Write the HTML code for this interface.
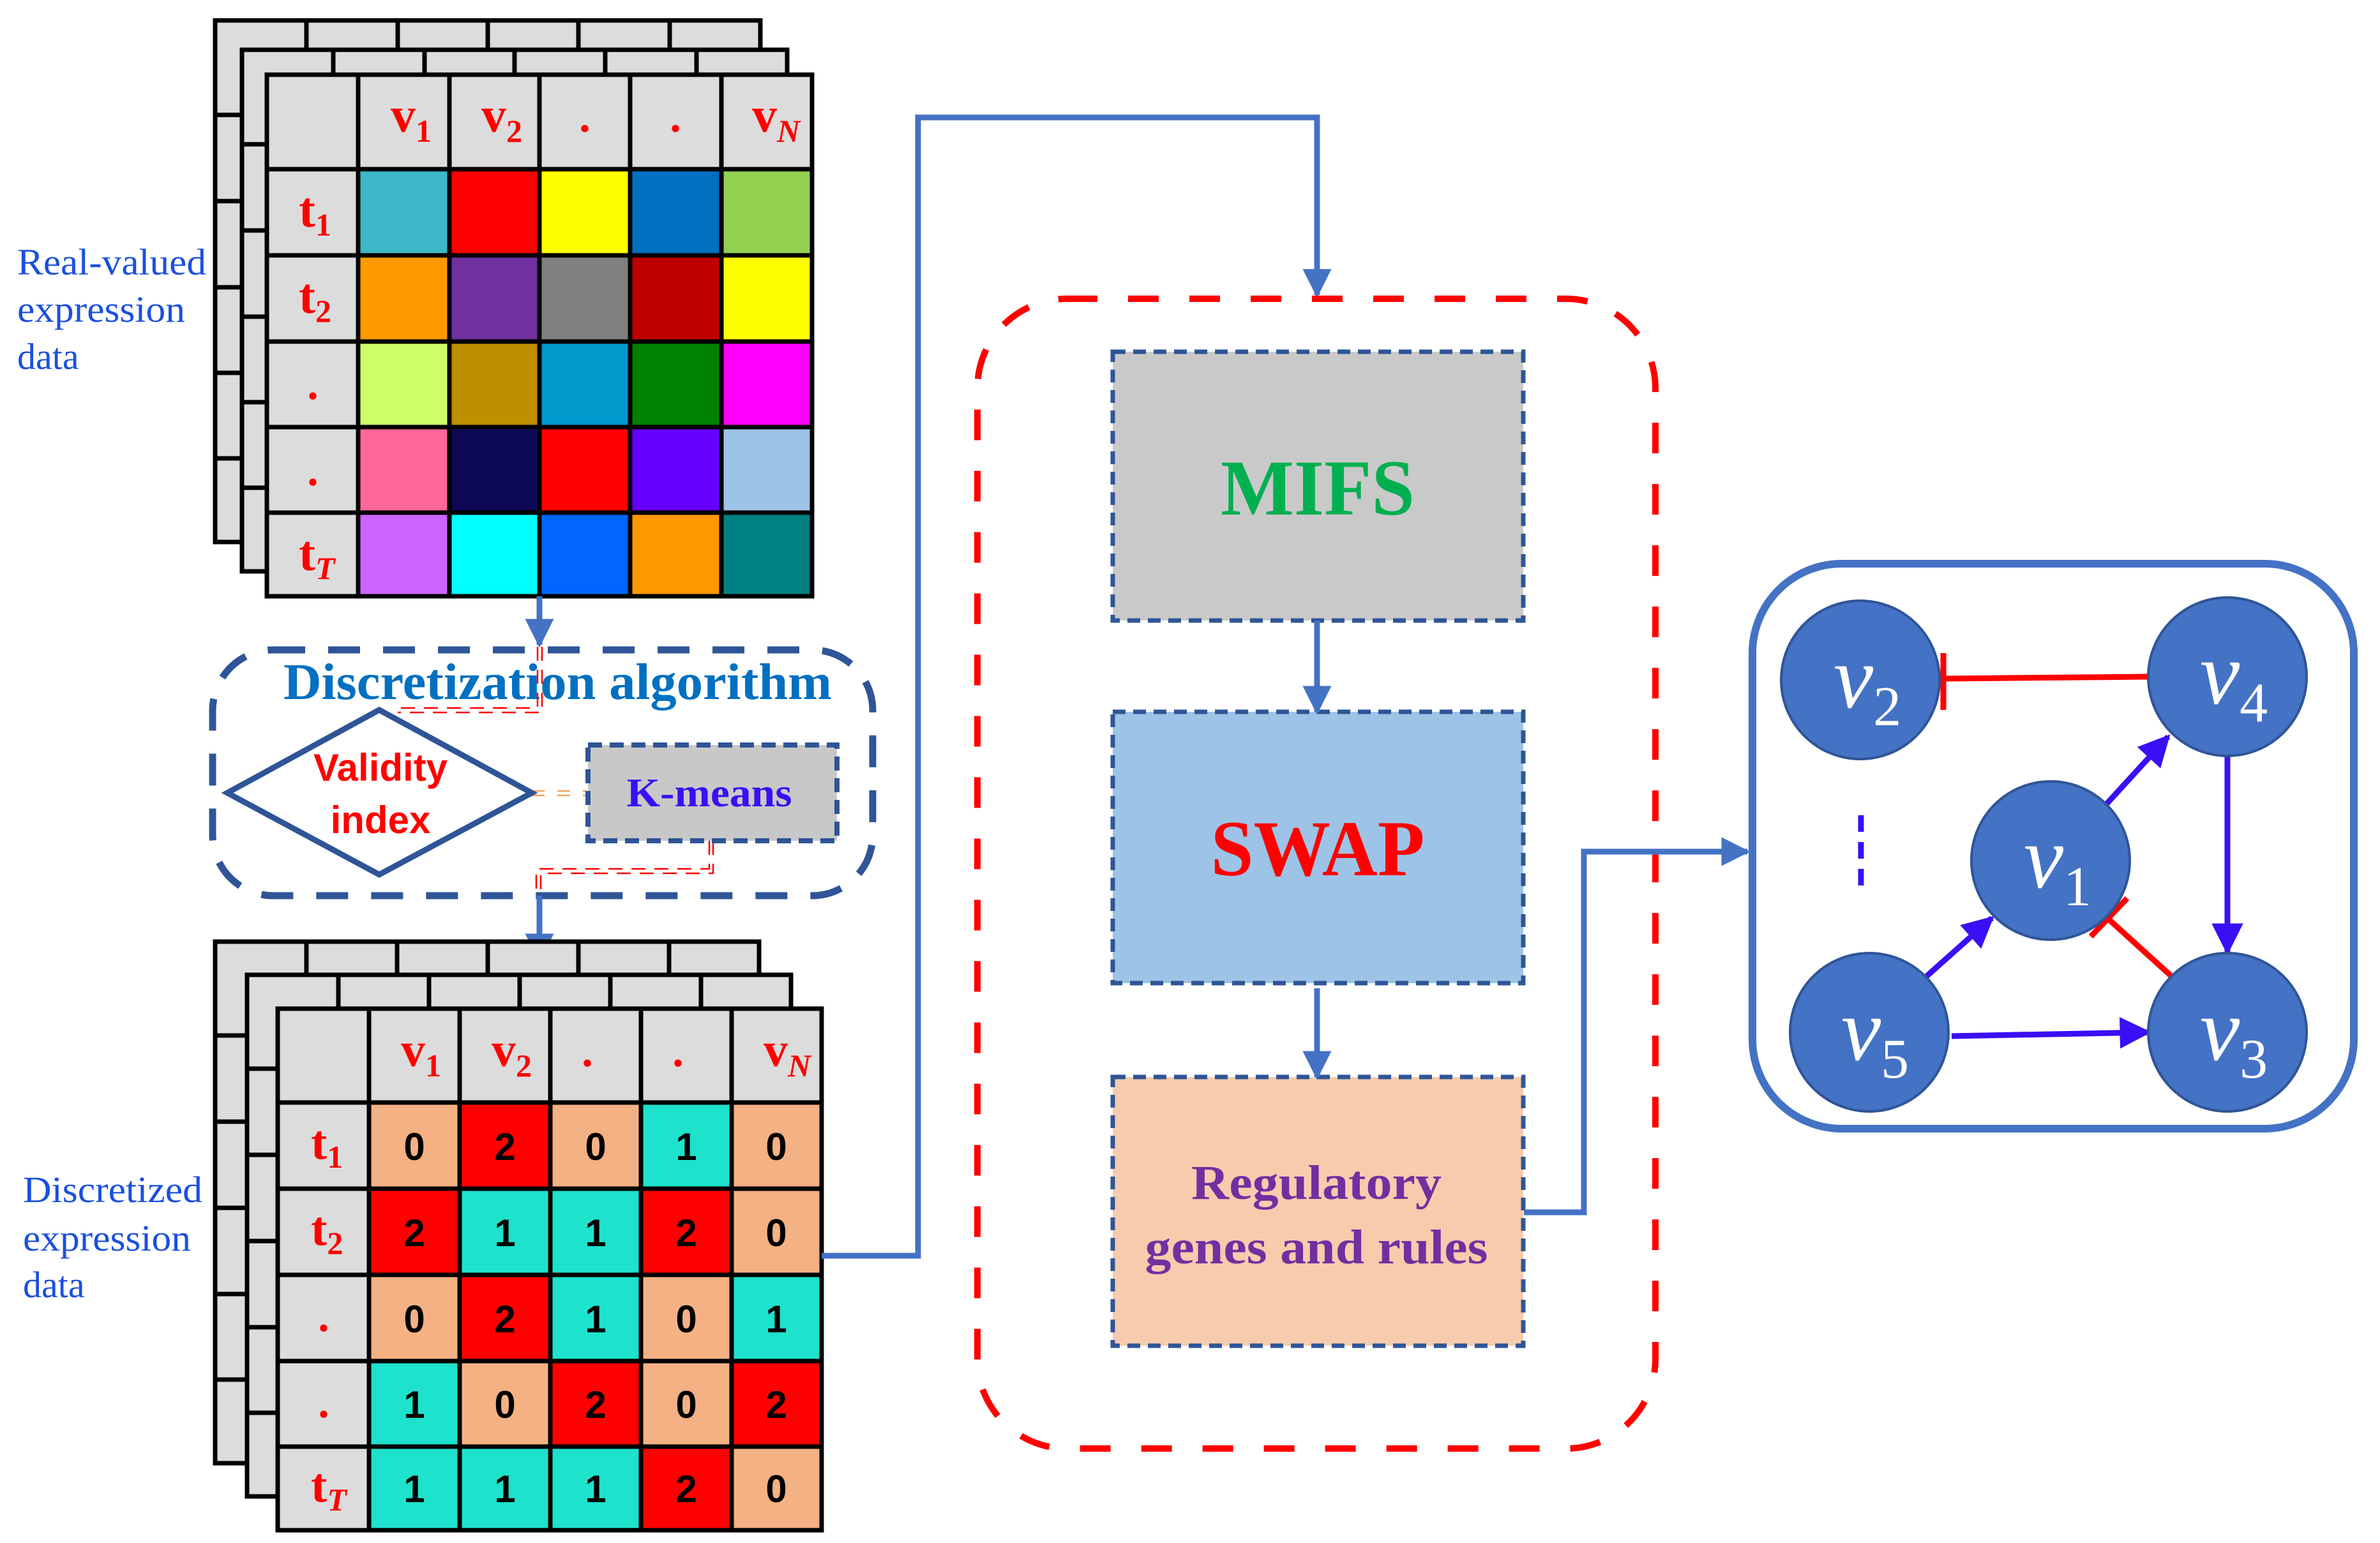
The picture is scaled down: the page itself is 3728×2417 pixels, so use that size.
<!DOCTYPE html>
<html><head><meta charset="utf-8"><style>html,body{margin:0;padding:0;background:#fff}svg{display:block}</style></head>
<body>
<svg width="3728" height="2417" viewBox="0 0 3728 2417" xmlns="http://www.w3.org/2000/svg">
<defs>
<marker id="ab" viewBox="0 0 10 10" refX="9" refY="5" markerWidth="5" markerHeight="5" orient="auto" markerUnits="strokeWidth"><path d="M0,0 L10,5 L0,10 z" fill="#4472c4"/></marker>
<marker id="ap" viewBox="0 0 10 10" refX="9" refY="5" markerWidth="5.5" markerHeight="5.5" orient="auto" markerUnits="strokeWidth"><path d="M0,0 L10,5 L0,10 z" fill="#3a0ff5"/></marker>
<g id="tg">
<rect x="0" y="0" width="854" height="817" fill="#dcdcdc" stroke="#000" stroke-width="7"/>
<path d="M143 0V817M286 0V817M427 0V817M569 0V817M712 0V817M0 148H854M0 283H854M0 418H854M0 552H854M0 686H854" stroke="#000" stroke-width="7"/>
</g>
<g id="bg">
<rect x="0" y="0" width="852" height="817" fill="#dcdcdc" stroke="#000" stroke-width="7"/>
<path d="M143 0V817M285 0V817M427 0V817M569 0V817M711 0V817M0 147H852M0 282H852M0 417H852M0 552H852M0 686H852" stroke="#000" stroke-width="7"/>
</g>
</defs>

<g font-family="Liberation Serif, serif" font-size="58" fill="#1a4fe0">
<text x="27" y="430" textLength="296" lengthAdjust="spacingAndGlyphs">Real-valued</text>
<text x="27" y="504" textLength="263" lengthAdjust="spacingAndGlyphs">expression</text>
<text x="27" y="578">data</text>
<text x="36" y="1883" textLength="281" lengthAdjust="spacingAndGlyphs">Discretized</text>
<text x="36" y="1959" textLength="263" lengthAdjust="spacingAndGlyphs">expression</text>
<text x="36" y="2032">data</text>
</g>

<use href="#tg" x="337" y="32"/>
<use href="#tg" x="379" y="78"/>
<g transform="translate(418,117)">
<rect x="0" y="0" width="854" height="817" fill="#dcdcdc"/>
<rect x="143" y="148" width="143" height="135" fill="#3cb8c8"/><rect x="286" y="148" width="141" height="135" fill="#ff0000"/><rect x="427" y="148" width="142" height="135" fill="#ffff00"/><rect x="569" y="148" width="143" height="135" fill="#0070c0"/><rect x="712" y="148" width="142" height="135" fill="#92d050"/>
<rect x="143" y="283" width="143" height="135" fill="#ff9900"/><rect x="286" y="283" width="141" height="135" fill="#7030a0"/><rect x="427" y="283" width="142" height="135" fill="#808080"/><rect x="569" y="283" width="143" height="135" fill="#c00000"/><rect x="712" y="283" width="142" height="135" fill="#ffff00"/>
<rect x="143" y="418" width="143" height="134" fill="#ccff66"/><rect x="286" y="418" width="141" height="134" fill="#bf8f00"/><rect x="427" y="418" width="142" height="134" fill="#0099cc"/><rect x="569" y="418" width="143" height="134" fill="#008000"/><rect x="712" y="418" width="142" height="134" fill="#ff00ff"/>
<rect x="143" y="552" width="143" height="134" fill="#ff6699"/><rect x="286" y="552" width="141" height="134" fill="#0d0855"/><rect x="427" y="552" width="142" height="134" fill="#ff0000"/><rect x="569" y="552" width="143" height="134" fill="#6600ff"/><rect x="712" y="552" width="142" height="134" fill="#9dc3e6"/>
<rect x="143" y="686" width="143" height="131" fill="#cc66ff"/><rect x="286" y="686" width="141" height="131" fill="#00ffff"/><rect x="427" y="686" width="142" height="131" fill="#0066ff"/><rect x="569" y="686" width="143" height="131" fill="#ff9900"/><rect x="712" y="686" width="142" height="131" fill="#008080"/>
<rect x="0" y="0" width="854" height="817" fill="none" stroke="#000" stroke-width="7"/>
<path d="M143 0V817M286 0V817M427 0V817M569 0V817M712 0V817M0 148H854M0 283H854M0 418H854M0 552H854M0 686H854" stroke="#000" stroke-width="7"/>
</g>
<g font-family="Liberation Serif, serif" font-weight="bold" fill="#ff0000">
<text x="612" y="206" font-size="78">v<tspan font-size="50" dy="16">1</tspan></text>
<text x="754" y="206" font-size="78">v<tspan font-size="50" dy="16">2</tspan></text>
<text x="1178" y="206" font-size="78">v<tspan font-size="50" dy="16" font-style="italic">N</tspan></text>
<text x="916" y="206" font-size="70" text-anchor="middle">.</text>
<text x="1058" y="206" font-size="70" text-anchor="middle">.</text>
<text x="468" y="355" font-size="78">t<tspan font-size="50" dy="14">1</tspan></text>
<text x="468" y="490" font-size="78">t<tspan font-size="50" dy="14">2</tspan></text>
<text x="490" y="625" font-size="70" text-anchor="middle">.</text>
<text x="490" y="760" font-size="70" text-anchor="middle">.</text>
<text x="468" y="893" font-size="78">t<tspan font-size="50" dy="14" font-style="italic">T</tspan></text>
</g>

<line x1="845" y1="934" x2="845" y2="1010" stroke="#4472c4" stroke-width="9" marker-end="url(#ab)"/>

<rect x="333" y="1018" width="1034" height="385" rx="95" fill="none" stroke="#2f5597" stroke-width="11" stroke-dasharray="50 36"/>
<text x="444" y="1095" font-family="Liberation Serif, serif" font-weight="bold" font-size="80" fill="#0070c0" textLength="859" lengthAdjust="spacingAndGlyphs">Discretization algorithm</text>
<g fill="none" stroke="#ff0000" stroke-width="2.5" stroke-dasharray="22 14">
<path d="M842 1013V1109H623"/><path d="M849 1013V1116H623"/>
<path d="M1111 1317V1361H840V1403"/><path d="M1117 1317V1368H847V1403"/>
</g>
<g stroke="#f4a460" stroke-width="2.5" stroke-dasharray="20 20"><path d="M833 1239H919M833 1246H919"/></g>
<polygon points="356,1242 594,1112 833,1242 594,1370" fill="#fff" stroke="#2f5597" stroke-width="9"/>
<g font-family="Liberation Sans, sans-serif" font-weight="bold" fill="#ff0000" font-size="60" text-anchor="middle">
<text x="596" y="1223">Validity</text><text x="596" y="1305">index</text>
</g>
<rect x="921" y="1167" width="390" height="150" fill="#c8c8c8" stroke="#2f5597" stroke-width="8" stroke-dasharray="22 12"/>
<text x="1111" y="1263" font-family="Liberation Serif, serif" font-weight="bold" font-size="64" fill="#3a0ff5" text-anchor="middle" textLength="259" lengthAdjust="spacingAndGlyphs">K-means</text>

<line x1="845" y1="1403" x2="845" y2="1503" stroke="#4472c4" stroke-width="9" marker-end="url(#ab)"/>

<use href="#bg" x="337" y="1475"/>
<use href="#bg" x="387" y="1527"/>
<g transform="translate(435,1580)" font-family="Liberation Sans, sans-serif" font-weight="bold" font-size="60" text-anchor="middle">
<rect x="0" y="0" width="852" height="817" fill="#dcdcdc"/>
<g>
<rect x="143" y="147" width="142" height="135" fill="#f4b183"/><rect x="285" y="147" width="142" height="135" fill="#ff0000"/><rect x="427" y="147" width="142" height="135" fill="#f4b183"/><rect x="569" y="147" width="142" height="135" fill="#1de2cc"/><rect x="711" y="147" width="141" height="135" fill="#f4b183"/>
<rect x="143" y="282" width="142" height="135" fill="#ff0000"/><rect x="285" y="282" width="142" height="135" fill="#1de2cc"/><rect x="427" y="282" width="142" height="135" fill="#1de2cc"/><rect x="569" y="282" width="142" height="135" fill="#ff0000"/><rect x="711" y="282" width="141" height="135" fill="#f4b183"/>
<rect x="143" y="417" width="142" height="135" fill="#f4b183"/><rect x="285" y="417" width="142" height="135" fill="#ff0000"/><rect x="427" y="417" width="142" height="135" fill="#1de2cc"/><rect x="569" y="417" width="142" height="135" fill="#f4b183"/><rect x="711" y="417" width="141" height="135" fill="#1de2cc"/>
<rect x="143" y="552" width="142" height="134" fill="#1de2cc"/><rect x="285" y="552" width="142" height="134" fill="#f4b183"/><rect x="427" y="552" width="142" height="134" fill="#ff0000"/><rect x="569" y="552" width="142" height="134" fill="#f4b183"/><rect x="711" y="552" width="141" height="134" fill="#ff0000"/>
<rect x="143" y="686" width="142" height="131" fill="#1de2cc"/><rect x="285" y="686" width="142" height="131" fill="#1de2cc"/><rect x="427" y="686" width="142" height="131" fill="#1de2cc"/><rect x="569" y="686" width="142" height="131" fill="#ff0000"/><rect x="711" y="686" width="141" height="131" fill="#f4b183"/>
</g>
<rect x="0" y="0" width="852" height="817" fill="none" stroke="#000" stroke-width="7"/>
<path d="M143 0V817M285 0V817M427 0V817M569 0V817M711 0V817M0 147H852M0 282H852M0 417H852M0 552H852M0 686H852" stroke="#000" stroke-width="7"/>
<g fill="#000">
<text x="214" y="237">0</text><text x="356" y="237">2</text><text x="498" y="237">0</text><text x="640" y="237">1</text><text x="781" y="237">0</text>
<text x="214" y="372">2</text><text x="356" y="372">1</text><text x="498" y="372">1</text><text x="640" y="372">2</text><text x="781" y="372">0</text>
<text x="214" y="507">0</text><text x="356" y="507">2</text><text x="498" y="507">1</text><text x="640" y="507">0</text><text x="781" y="507">1</text>
<text x="214" y="641">1</text><text x="356" y="641">0</text><text x="498" y="641">2</text><text x="640" y="641">0</text><text x="781" y="641">2</text>
<text x="214" y="773">1</text><text x="356" y="773">1</text><text x="498" y="773">1</text><text x="640" y="773">2</text><text x="781" y="773">0</text>
</g>
</g>
<g font-family="Liberation Serif, serif" font-weight="bold" fill="#ff0000">
<text x="628" y="1670" font-size="76">v<tspan font-size="50" dy="16">1</tspan></text>
<text x="770" y="1670" font-size="76">v<tspan font-size="50" dy="16">2</tspan></text>
<text x="1196" y="1670" font-size="76">v<tspan font-size="50" dy="16" font-style="italic">N</tspan></text>
<text x="920" y="1670" font-size="70" text-anchor="middle">.</text>
<text x="1062" y="1670" font-size="70" text-anchor="middle">.</text>
<text x="487" y="1815" font-size="76">t<tspan font-size="50" dy="14">1</tspan></text>
<text x="487" y="1950" font-size="76">t<tspan font-size="50" dy="14">2</tspan></text>
<text x="507" y="2085" font-size="70" text-anchor="middle">.</text>
<text x="507" y="2220" font-size="70" text-anchor="middle">.</text>
<text x="487" y="2352" font-size="76">t<tspan font-size="50" dy="14" font-style="italic">T</tspan></text>
</g>

<path d="M1287 1967H1438V184H2063V462" fill="none" stroke="#4472c4" stroke-width="9" marker-end="url(#ab)"/>

<rect x="1531" y="468" width="1062" height="1801" rx="140" fill="none" stroke="#ff0000" stroke-width="10" stroke-dasharray="48 48"/>
<rect x="1743" y="551" width="643" height="421" fill="#c9c9c9" stroke="#2f5597" stroke-width="7" stroke-dasharray="20 12"/>
<rect x="1743" y="1115" width="643" height="425" fill="#9dc3e6" stroke="#2f5597" stroke-width="7" stroke-dasharray="20 12"/>
<rect x="1743" y="1687" width="643" height="421" fill="#f8cbad" stroke="#2f5597" stroke-width="7" stroke-dasharray="20 12"/>
<line x1="2063" y1="972" x2="2063" y2="1115" stroke="#4472c4" stroke-width="9" marker-end="url(#ab)"/>
<line x1="2063" y1="1548" x2="2063" y2="1687" stroke="#4472c4" stroke-width="9" marker-end="url(#ab)"/>
<g font-family="Liberation Serif, serif" font-weight="bold" text-anchor="middle">
<text x="2064" y="806" font-size="124" fill="#00b050" textLength="304" lengthAdjust="spacingAndGlyphs">MIFS</text>
<text x="2064" y="1371" font-size="124" fill="#ff0000" textLength="335" lengthAdjust="spacingAndGlyphs">SWAP</text>
<text x="2062" y="1878" font-size="76" fill="#7030a0" textLength="392" lengthAdjust="spacingAndGlyphs">Regulatory</text>
<text x="2062" y="1979" font-size="76" fill="#7030a0" textLength="537" lengthAdjust="spacingAndGlyphs">genes and rules</text>
</g>
<path d="M2387 1899H2481V1334H2737" fill="none" stroke="#4472c4" stroke-width="9" marker-end="url(#ab)"/>

<rect x="2745" y="883" width="942" height="885" rx="140" fill="none" stroke="#4472c4" stroke-width="12"/>
<g stroke-width="9" fill="none">
<line x1="3364" y1="1060" x2="3044" y2="1063" stroke="#ff0000"/>
<line x1="3044" y1="1023" x2="3044" y2="1112" stroke="#ff0000"/>
<line x1="3400" y1="1528" x2="3303" y2="1440" stroke="#ff0000"/>
<line x1="3275" y1="1467" x2="3332" y2="1407" stroke="#ff0000"/>
<line x1="3300" y1="1259" x2="3396" y2="1154" stroke="#3a0ff5" marker-end="url(#ap)"/>
<line x1="3489" y1="1185" x2="3489" y2="1491" stroke="#3a0ff5" marker-end="url(#ap)"/>
<line x1="3018" y1="1529" x2="3120" y2="1438" stroke="#3a0ff5" marker-end="url(#ap)"/>
<line x1="3057" y1="1623" x2="3365" y2="1617" stroke="#3a0ff5" marker-end="url(#ap)"/>
<line x1="2915" y1="1277" x2="2915" y2="1390" stroke="#3a0ff5" stroke-dasharray="26 16"/>
</g>
<g fill="#4472c4" stroke="#2f5597" stroke-width="4">
<circle cx="2914" cy="1065" r="124"/><circle cx="3489" cy="1060" r="124"/><circle cx="3212" cy="1348" r="124"/><circle cx="2928" cy="1617" r="124"/><circle cx="3489" cy="1617" r="124"/>
</g>
<g font-family="Liberation Serif, serif" fill="#fff">
<text x="2872" y="1108" font-size="140" font-style="italic">v<tspan font-size="88" font-style="normal" dy="28">2</tspan></text>
<text x="3446" y="1102" font-size="140" font-style="italic">v<tspan font-size="88" font-style="normal" dy="28">4</tspan></text>
<text x="3170" y="1390" font-size="140" font-style="italic">v<tspan font-size="88" font-style="normal" dy="28">1</tspan></text>
<text x="2884" y="1660" font-size="140" font-style="italic">v<tspan font-size="88" font-style="normal" dy="28">5</tspan></text>
<text x="3446" y="1660" font-size="140" font-style="italic">v<tspan font-size="88" font-style="normal" dy="28">3</tspan></text>
</g>
</svg>
</body></html>
